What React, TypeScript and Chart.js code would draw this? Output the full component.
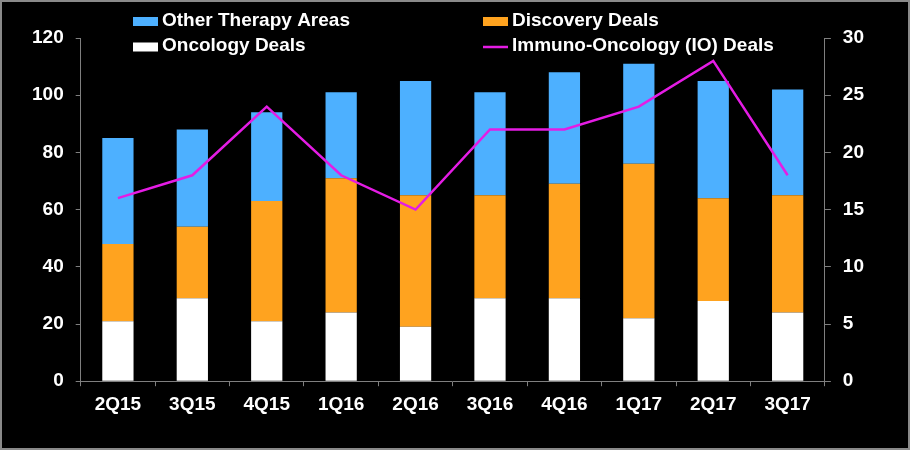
import React, { useEffect, useRef } from "react";
import { Chart, registerables } from "chart.js";

Chart.register(...registerables);

const categories = ["2Q15", "3Q15", "4Q15", "1Q16", "2Q16", "3Q16", "4Q16", "1Q17", "2Q17", "3Q17"];
const oncologyDeals = [21, 29, 21, 24, 19, 29, 29, 22, 28, 24];
const discoveryDeals = [27, 25, 42, 47, 46, 36, 40, 54, 36, 41];
const otherTherapyAreas = [37, 34, 31, 30, 40, 36, 39, 35, 41, 37];
const ioDeals = [16, 18, 24, 18, 15, 22, 22, 24, 28, 18];
const leftTicks = [0, 20, 40, 60, 80, 100, 120];
const rightTicks = [0, 5, 10, 15, 20, 25, 30];

const BLUE = "#4DB0FF";
const ORANGE = "#FFA31F";
const WHITE = "#FFFFFF";
const MAGENTA = "#E41CE4";
const GREY = "#7F7F7F";
const FONT = "Arial, 'Liberation Sans', sans-serif";
const FS = 19;

const frameAndLegend = {
  id: "frameAndLegend",
  beforeDraw(chart: any) {
    const { ctx, width, height } = chart;
    ctx.save();
    ctx.fillStyle = "#000";
    ctx.fillRect(0, 0, width, height);
    ctx.restore();
  },
  afterDraw(chart: any) {
    const { ctx, width, height } = chart;
    ctx.save();
    ctx.strokeStyle = "#8A8A8A";
    ctx.lineWidth = 2;
    ctx.strokeRect(1, 1, width - 2, height - 2);

    const items = [
      { ds: 2, x: 133, y: 21.5, type: "box" },
      { ds: 1, x: 483, y: 21.5, type: "box" },
      { ds: 0, x: 133, y: 47, type: "box" },
      { ds: 3, x: 483, y: 47, type: "line" },
    ];
    ctx.font = `bold ${FS}px ${FONT}`;
    ctx.textBaseline = "middle";
    ctx.textAlign = "left";
    for (const it of items) {
      const d = chart.data.datasets[it.ds];
      if (it.type === "box") {
        ctx.fillStyle = d.backgroundColor;
        ctx.fillRect(it.x, it.y - 4.5, 25, 9);
      } else {
        ctx.strokeStyle = d.borderColor;
        ctx.lineWidth = 2.5;
        ctx.beginPath();
        ctx.moveTo(it.x, it.y);
        ctx.lineTo(it.x + 25, it.y);
        ctx.stroke();
      }
      ctx.fillStyle = "#fff";
      ctx.fillText(d.label, it.x + 29, it.y - 1);
    }
    ctx.restore();
  },
};

export default function App() {
  const ref = useRef<HTMLCanvasElement>(null);
  useEffect(() => {
    document.body.style.margin = "0";
    const tickFont = { family: FONT, size: FS, weight: "bold" };
    const chart = new Chart(ref.current as HTMLCanvasElement, {
      type: "bar",
      data: {
        labels: categories,
        datasets: [
          { type: "bar", label: "Oncology Deals", data: oncologyDeals, backgroundColor: WHITE, stack: "s", yAxisID: "y", order: 1 },
          { type: "bar", label: "Discovery Deals", data: discoveryDeals, backgroundColor: ORANGE, stack: "s", yAxisID: "y", order: 1 },
          { type: "bar", label: "Other Therapy Areas", data: otherTherapyAreas, backgroundColor: BLUE, stack: "s", yAxisID: "y", order: 1 },
          {
            type: "line",
            label: "Immuno-Oncology (IO) Deals",
            data: ioDeals,
            borderColor: MAGENTA,
            backgroundColor: MAGENTA,
            borderWidth: 2.5,
            pointRadius: 0,
            tension: 0,
            yAxisID: "y1",
            order: 0,
          } as any,
        ],
      },
      options: {
        animation: false,
        responsive: false,
        maintainAspectRatio: false,
        layout: { padding: { left: 20, right: 34, top: 38, bottom: 27 } },
        plugins: { legend: { display: false }, tooltip: { enabled: false } },
        datasets: { bar: { categoryPercentage: 1, barPercentage: 0.42 } },
        scales: {
          x: {
            stacked: true,
            grid: { display: true, drawOnChartArea: false, color: GREY, tickLength: 5, offset: true },
            border: { color: GREY, width: 1 },
            ticks: { color: "#fff", font: tickFont, padding: 7, maxRotation: 0 },
          },
          y: {
            stacked: true,
            position: "left",
            min: 0,
            max: 120,
            afterBuildTicks: (s: any) => { s.ticks = leftTicks.map((v) => ({ value: v })); },
            grid: { display: true, drawOnChartArea: false, color: GREY, tickLength: 5 },
            border: { color: GREY, width: 1 },
            ticks: { color: "#fff", font: tickFont, padding: 12 },
          },
          y1: {
            position: "right",
            min: 0,
            max: 30,
            afterBuildTicks: (s: any) => { s.ticks = rightTicks.map((v) => ({ value: v })); },
            grid: { display: true, drawOnChartArea: false, color: GREY, tickLength: 6 },
            border: { color: GREY, width: 1 },
            ticks: { color: "#fff", font: tickFont, padding: 12 },
          },
        },
      },
      plugins: [frameAndLegend],
    } as any);
    return () => chart.destroy();
  }, []);
  return (
    <div style={{ width: 910, height: 450, background: "#000" }}>
      <canvas ref={ref} width={910} height={450} style={{ display: "block", width: 910, height: 450 }} />
    </div>
  );
}
